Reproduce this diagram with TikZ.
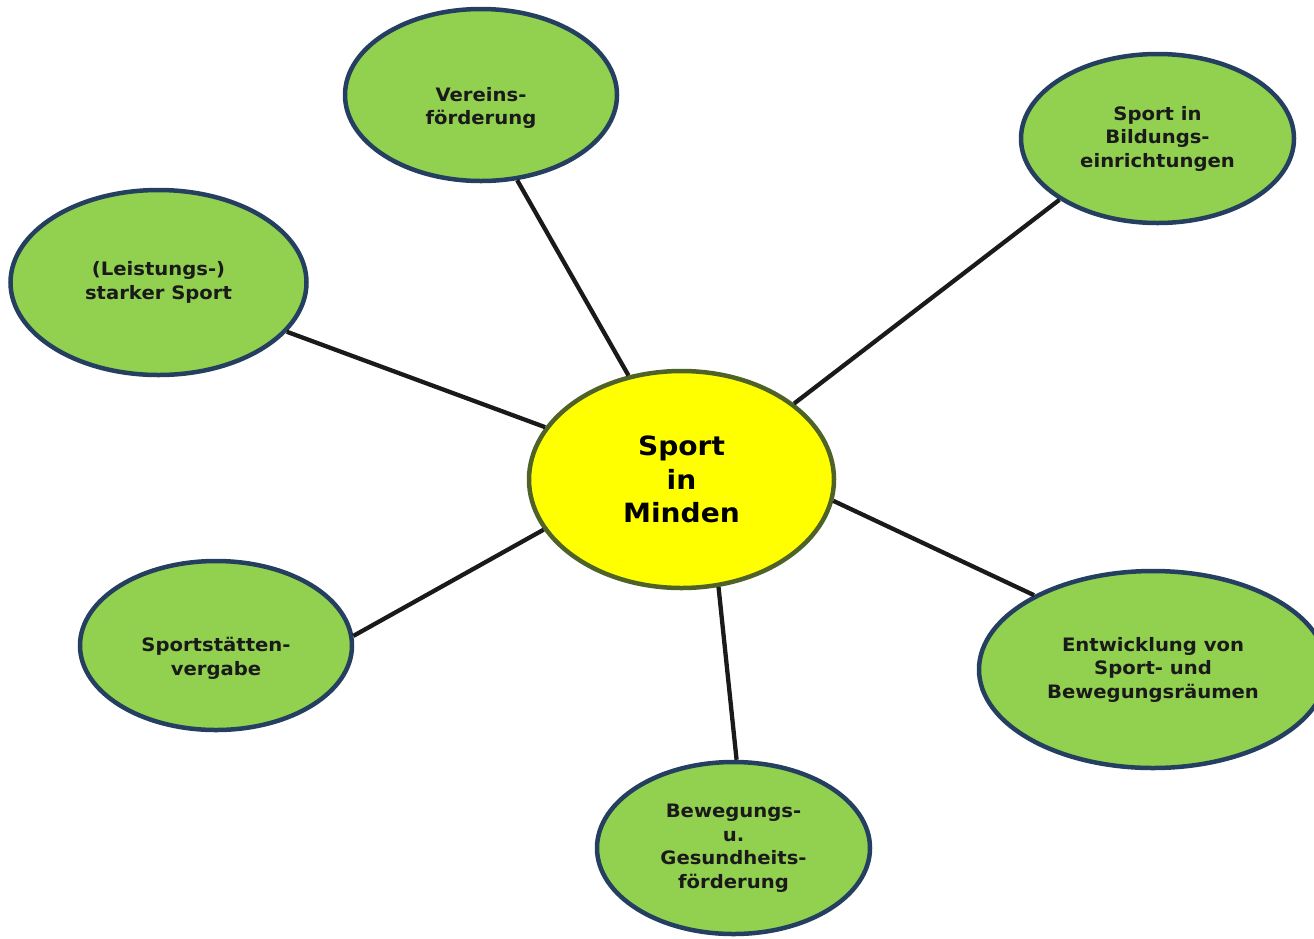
\documentclass[tikz,border=0pt]{standalone}
\usepackage{fontspec}
\setmainfont{DejaVu Sans}[FakeStretch=1.06]
\usetikzlibrary{shapes.geometric}
\definecolor{leaf}{HTML}{92D050}
\definecolor{navy}{HTML}{243F60}
\definecolor{olive}{HTML}{4F6228}
\definecolor{sun}{HTML}{FFFF00}
\definecolor{ink}{HTML}{1A1A1A}

\begin{document}
\begin{tikzpicture}[x=1pt, y=-1pt,
  topic/.style={ellipse, draw=navy, fill=leaf, line width=4.5pt, inner sep=0pt,
    text=ink, align=center, font=\fontsize{18.5}{23.5}\selectfont\bfseries},
  hub/.style={ellipse, draw=olive, fill=sun, line width=4.5pt, inner sep=0pt,
    align=center, font=\fontsize{26.5}{33.5}\selectfont\bfseries},
  spoke/.style={draw=ink, line width=4.3pt}]

  \useasboundingbox (0,0) rectangle (1314,938);
  \clip (0,0) rectangle (1314,938);

  \node[hub, minimum width=305pt, minimum height=217pt] (sport) at (681.5,479.5) {Sport\\in\\Minden};

  \node[topic, minimum width=272pt, minimum height=172pt] (verein) at (481,95) {\strut\\Vereins-\\förderung};
  \node[topic, minimum width=273pt, minimum height=169pt] (bildung) at (1157.5,138.5) {Sport in\\Bildungs-\\einrichtungen};
  \node[topic, minimum width=296pt, minimum height=185pt] (leistung) at (158.5,282.5) {(Leistungs-)\\starker Sport};
  \node[topic, minimum width=272pt, minimum height=169pt] (staette) at (216,645.5) {\strut\\Sportstätten-\\vergabe};
  \node[topic, minimum width=273pt, minimum height=172pt] (gesund) at (733.5,848) {Bewegungs-\\u.\\Gesundheits-\\förderung};
  \node[topic, minimum width=348pt, minimum height=197pt] (raum) at (1153,669.5) {Entwicklung von\\Sport- und\\Bewegungsräumen};

  \draw[spoke] (sport.117.8) -- (verein.-67.6); %% Verein
  \draw[spoke] (sport.34.5) -- (bildung.212.4); %% Bildung
  \draw[spoke] (sport.159.2) -- (leistung.-21.7); %% Leistung
  \draw[spoke] (sport.200.8) -- (staette.4); %% Staetten
  \draw[spoke] (sport.-71.7) -- (gesund.88.4); %% Gesundheit
  \draw[spoke] (sport.-8) -- (raum.148.4); %% Raeume

\end{tikzpicture}
\end{document}
